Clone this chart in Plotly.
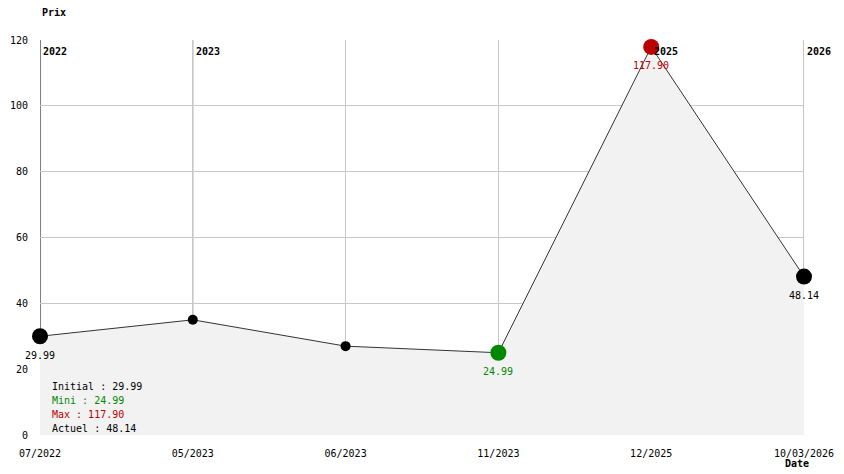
import plotly.graph_objects as go

dates = ["07/2022", "05/2023", "06/2023", "11/2023", "12/2025", "10/03/2026"]
prices = [29.99, 34.99, 26.99, 24.99, 117.90, 48.14]
year_labels = ["2022", "2023", "2025", "2026"]
year_index = [0, 1, 4, 5]
y_ticks = [0, 20, 40, 60, 80, 100, 120]

FONT = "DejaVu Sans Mono"
GREEN = "#008800"
RED = "#bb0000"

n = len(dates)
xs = list(range(n))
i_min = prices.index(min(prices))
i_max = prices.index(max(prices))

colors, sizes = [], []
for i in xs:
    if i == i_min:
        colors.append(GREEN); sizes.append(16)
    elif i == i_max:
        colors.append(RED); sizes.append(16)
    elif i in (0, n - 1):
        colors.append("black"); sizes.append(16)
    else:
        colors.append("black"); sizes.append(10)

fig = go.Figure()
fig.add_trace(go.Scatter(
    x=xs, y=prices, mode="lines",
    line=dict(color="#333333", width=1),
    fill="tozeroy", fillcolor="#f2f2f2",
    cliponaxis=False, hoverinfo="skip", showlegend=False,
))
fig.add_trace(go.Scatter(
    x=xs, y=prices, mode="markers",
    marker=dict(color=colors, size=sizes, opacity=1, line=dict(width=0)),
    cliponaxis=False, hoverinfo="x+y", showlegend=False,
))

annotations = []
for i, col in [(0, "black"), (i_min, GREEN), (i_max, RED), (n - 1, "black")]:
    annotations.append(dict(
        x=i, y=prices[i], xref="x", yref="y", text=f"{prices[i]:.2f}",
        showarrow=False, yshift=-19, font=dict(family=FONT, size=10, color=col),
        xanchor="center", yanchor="middle",
    ))

shapes = []
for lbl, idx in zip(year_labels, year_index):
    shapes.append(dict(
        type="line", xref="x", yref="paper", x0=idx, x1=idx, y0=0, y1=1,
        line=dict(color="black" if idx == 0 else "#888888", width=1), layer="below",
    ))
    annotations.append(dict(
        x=idx, y=1, xref="x", yref="paper", text=f"<b>{lbl}</b>",
        showarrow=False, xanchor="left", yanchor="middle", xshift=1, yshift=-11,
        font=dict(family=FONT, size=10, color="black"),
    ))

summary = [
    (f"Initial : {prices[0]:.2f}", "black"),
    (f"Mini : {prices[i_min]:.2f}", GREEN),
    (f"Max : {prices[i_max]:.2f}", RED),
    (f"Actuel : {prices[-1]:.2f}", "black"),
]
for k, (txt, col) in enumerate(summary):
    annotations.append(dict(
        x=0.0131, y=(435 - (386 + 14 * k)) / 395, xref="paper", yref="paper",
        text=txt, showarrow=False, xanchor="left", yanchor="middle",
        font=dict(family=FONT, size=10, color=col),
    ))

annotations.append(dict(
    x=0, y=1, xref="paper", yref="paper", text="<b>Prix</b>", showarrow=False,
    xanchor="left", yanchor="middle", yshift=28, font=dict(family=FONT, size=10, color="black"),
))
annotations.append(dict(
    x=1, y=0, xref="paper", yref="paper", text="<b>Date</b>", showarrow=False,
    xanchor="left", yanchor="middle", xshift=-21, yshift=-28, font=dict(family=FONT, size=10, color="black"),
))

fig.update_layout(
    width=836, height=466,
    margin=dict(l=32, r=40, t=32, b=39, autoexpand=False),
    paper_bgcolor="white", plot_bgcolor="white",
    font=dict(family=FONT, size=10, color="black"),
    showlegend=False,
    shapes=shapes, annotations=annotations,
    xaxis=dict(
        range=[0, n - 1], tickmode="array", tickvals=xs, ticktext=dates,
        showgrid=True, gridcolor="#c8c8c8", gridwidth=1, zeroline=False,
        showline=False, ticks="", ticklabelstandoff=11, automargin=False,
        tickfont=dict(family=FONT, size=10, color="black"),
    ),
    yaxis=dict(
        range=[0, 120], tickmode="array", tickvals=y_ticks,
        showgrid=True, gridcolor="#c8c8c8", gridwidth=1, zeroline=False,
        showline=False, ticks="", ticklabelstandoff=11, automargin=False,
        tickfont=dict(family=FONT, size=10, color="black"),
    ),
)

fig.write_html("out.html")
